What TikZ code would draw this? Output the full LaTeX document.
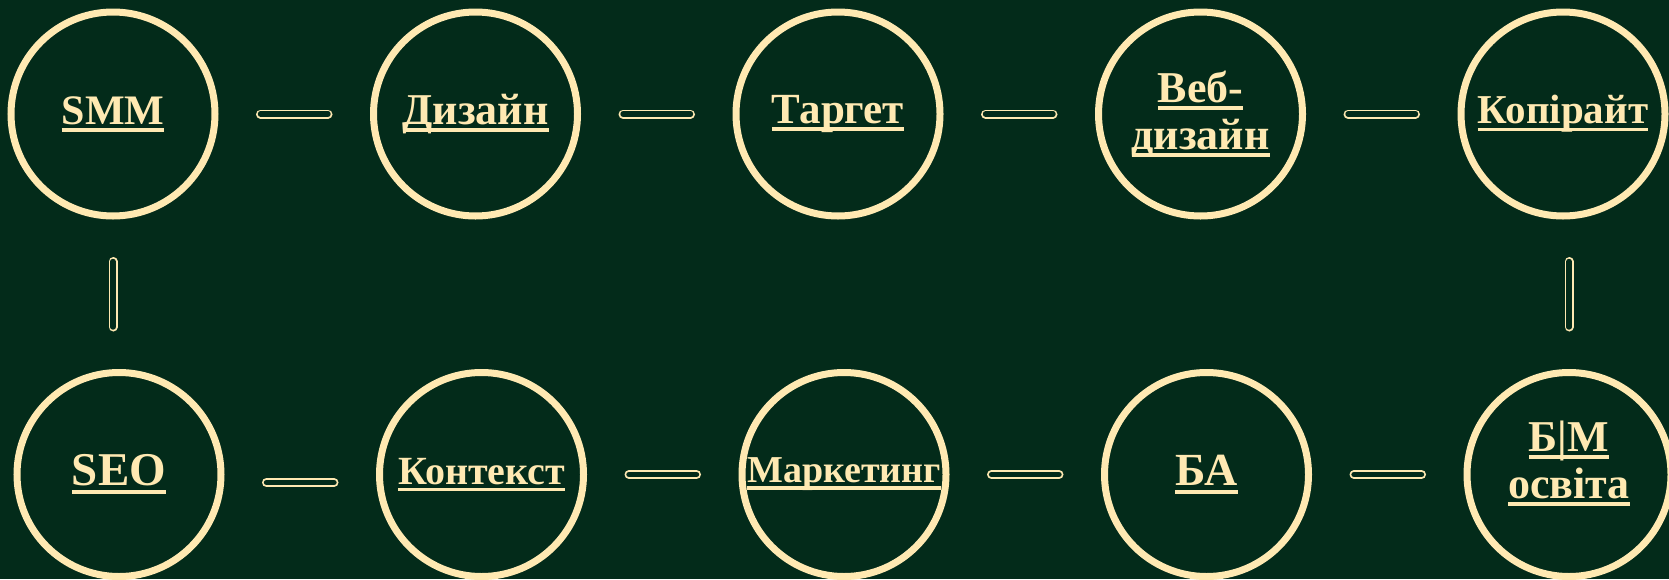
\documentclass[tikz,border=0pt]{standalone}
\usepackage{fontspec}
\setmainfont{Liberation Serif}
\usepackage{tikz}
\usetikzlibrary{positioning}

\definecolor{cream}{HTML}{FFE9B2}
\definecolor{pine}{HTML}{032B1A}

% underlined word, thick bar
\newcommand\ulword[1]{\setbox0=\hbox{#1}\rlap{\rule[-0.18em]{\wd0}{0.09em}}\box0}

\begin{document}
\begin{tikzpicture}[
    x=1pt, y=-1pt,
    node distance=149.5pt and 151.5pt,
    bubble/.style={
        circle, draw=cream, line width=7pt,
        minimum size=204pt, inner sep=0pt,
        text=cream, align=center
    },
    lbl/.style={font=\bfseries\fontsize{#1}{47}\selectfont},
    link/.style={
        draw=cream, line width=1.8pt, double=pine, double distance=5.4pt,
        line cap=round, shorten <=42pt, shorten >=42pt
    }
]
\useasboundingbox (0,0) rectangle (1669,579);
\fill[pine] (0,0) rectangle (1669,579);
\clip (0,0) rectangle (1669,579);

% Top row
\node[bubble, lbl=42] (smm) at (113,114) {\ulword{SMM}};
\node[bubble, lbl=44, right=of smm] (dyz) {\ulword{Дизайн}};
\node[bubble, lbl=43, right=of dyz] (targ) {\ulword{Таргет}};
\node[bubble, lbl=44, right=of targ] (web) {\ulword{Веб-}\\\ulword{дизайн}};
\node[bubble, lbl=41, right=of web] (kopi) {\ulword{Копірайт}};

% Bottom row
\node[bubble, lbl=47, below=of smm, xshift=6pt] (seo) {\ulword{SEO}};
\node[bubble, lbl=40, right=of seo] (kont) {\ulword{Контекст}};
\node[bubble, lbl=38, right=of kont] (mark) {\ulword{Маркетинг}};
\node[bubble, lbl=46, right=of mark] (ba) {\ulword{БА}};
\node[bubble, lbl=44, right=of ba] (bm)
    {\raisebox{9pt}[\height][\depth]{\begin{tabular}[b]{@{}c@{}}\ulword{Б|М}\\\ulword{освіта}\end{tabular}}};

% Links
\draw[link] (smm.east) -- (dyz.west);
\draw[link] (dyz.east) -- (targ.west);
\draw[link] (targ.east) -- (web.west);
\draw[link] (web.east) -- (kopi.west);
\draw[link] (smm.south) -- (smm.south |- seo.north);
\draw[link] (bm.north |- kopi.south) -- (bm.north);
\draw[link] ([yshift=-8pt]seo.east) -- ([yshift=-8pt]kont.west);
\draw[link] (kont.east) -- (mark.west);
\draw[link] (mark.east) -- (ba.west);
\draw[link] (ba.east) -- (bm.west);

\end{tikzpicture}
\end{document}
